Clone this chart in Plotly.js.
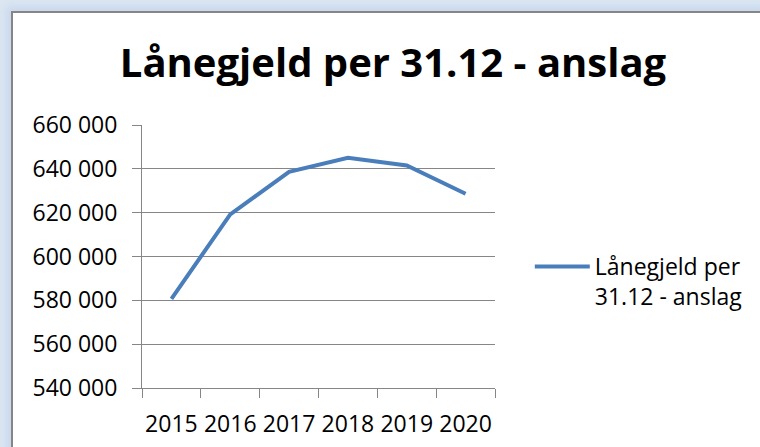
<!DOCTYPE html>
<html>
<head>
<meta charset="utf-8">
<script src="https://cdn.plot.ly/plotly-3.0.1.min.js"></script>
<style>
  html, body { margin: 0; padding: 0; width: 760px; height: 447px; overflow: hidden; background: #dce6f2; }
  #frame { position: absolute; left: 11px; top: 11px; width: 760px; height: 450px;
           background: #ffffff; border-left: 2px solid #868686; border-top: 2px solid #868686;
           box-shadow: -3px -3px 8px 2px #c9d9ec; }
  #chart { position: absolute; left: 0; top: 0; width: 760px; height: 447px; }
</style>
</head>
<body>
<div id="frame"></div>
<div id="chart"></div>
<script>
const years = ['2015', '2016', '2017', '2018', '2019', '2020'];
const laanegjeld = [580700, 619200, 638600, 645000, 641500, 628600];
const seriesName = 'Lånegjeld per<br>31.12 - anslag';
const chartTitle = 'Lånegjeld per 31.12 - anslag';
const yTicks = [540000, 560000, 580000, 600000, 620000, 640000, 660000];

const font = "'Open Sans', 'Noto Sans', sans-serif";

const trace = {
  x: years,
  y: laanegjeld,
  type: 'scatter',
  mode: 'lines',
  name: seriesName,
  line: { color: '#4a7ebb', width: 4 },
  hoverinfo: 'none'
};

const layout = {
  width: 760,
  height: 447,
  paper_bgcolor: 'rgba(0,0,0,0)',
  plot_bgcolor: 'rgba(0,0,0,0)',
  separators: ', ',
  margin: { l: 142, r: 263, t: 125, b: 59, pad: 0 },
  title: {
    text: '<b>' + chartTitle + '</b>',
    font: { family: font, size: 40, color: '#000000' },
    x: 393 / 760,
    xanchor: 'center',
    xref: 'container',
    yref: 'container',
    y: 1 - 63 / 447,
    yanchor: 'middle'
  },
  xaxis: {
    type: 'category',
    range: [-0.5, 5.5],
    tickson: 'boundaries',
    ticks: 'outside',
    ticklen: 9,
    tickcolor: '#868686',
    tickwidth: 1,
    tickangle: 0,
    showline: true,
    linecolor: '#868686',
    linewidth: 1,
    showgrid: false,
    zeroline: false,
    ticklabelstandoff: 15,
    tickfont: { family: font, size: 23, color: '#000000' },
    fixedrange: true
  },
  yaxis: {
    range: [540000, 660000],
    tickvals: yTicks,
    tickformat: ',d',
    ticks: 'outside',
    ticklen: 9,
    tickcolor: '#868686',
    tickwidth: 1,
    showline: true,
    linecolor: '#868686',
    linewidth: 1,
    showgrid: true,
    gridcolor: '#868686',
    gridwidth: 1,
    zeroline: false,
    ticklabelstandoff: 10,
    tickfont: { family: font, size: 23, color: '#000000' },
    fixedrange: true
  },
  showlegend: true,
  legend: {
    x: (532 - 142) / 355,
    xanchor: 'left',
    y: (388 - 245) / 263,
    yanchor: 'top',
    valign: 'top',
    bgcolor: 'rgba(0,0,0,0)',
    font: { family: font, size: 23, color: '#000000' },
    itemwidth: 55
  }
};

Plotly.newPlot('chart', [trace], layout, { staticPlot: true, displayModeBar: false });
</script>
</body>
</html>
